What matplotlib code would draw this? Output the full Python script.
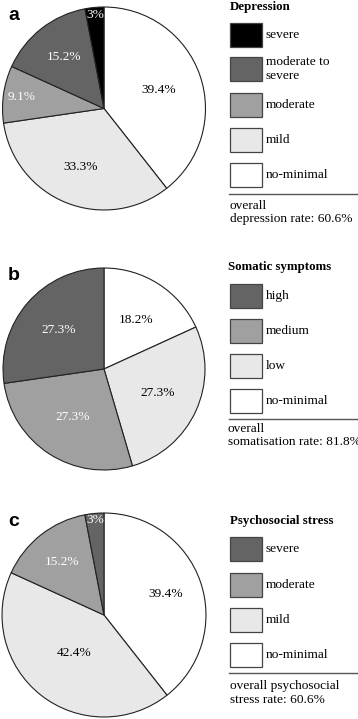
import numpy as np
import matplotlib
matplotlib.use("Agg")
import matplotlib.pyplot as plt
from matplotlib.patches import Rectangle
from matplotlib.colors import to_rgb

# data (pie order: clockwise from 12 o'clock)
dep_labels = ['no-minimal', 'mild', 'moderate', 'moderate to\nsevere', 'severe']
dep_values = [39.4, 33.3, 9.1, 15.2, 3.0]
dep_colors = ['#ffffff', '#e8e8e8', '#a0a0a0', '#646464', '#000000']

som_labels = ['no-minimal', 'low', 'medium', 'high']
som_values = [18.2, 27.3, 27.3, 27.3]
som_colors = ['#ffffff', '#e8e8e8', '#a0a0a0', '#646464']

psy_labels = ['no-minimal', 'mild', 'moderate', 'severe']
psy_values = [39.4, 42.4, 15.2, 3.0]
psy_colors = ['#ffffff', '#e8e8e8', '#a0a0a0', '#646464']

W, H = 358, 719
serif = 'Liberation Serif'

fig = plt.figure(figsize=(W / 100, H / 100), dpi=100)
overlay = fig.add_axes([0, 0, 1, 1])
overlay.set_xlim(0, W)
overlay.set_ylim(H, 0)
overlay.axis('off')


def draw_pie(cx, cy, r, values, colors, dists, letter):
    ax = fig.add_axes([(cx - r) / W, 1 - (cy + r) / H, 2 * r / W, 2 * r / H])
    wedges, _ = ax.pie(values, colors=colors, startangle=90, counterclock=False,
                       wedgeprops=dict(edgecolor='#222222', linewidth=0.8))
    ax.set_xlim(-1.01, 1.01)
    ax.set_ylim(-1.01, 1.01)
    ax.axis('off')
    for w, v, c, d in zip(wedges, values, colors, dists):
        ang = np.deg2rad((w.theta1 + w.theta2) / 2)
        tc = 'white' if np.mean(to_rgb(c)) < 0.7 else 'black'
        ax.text(d * np.cos(ang), d * np.sin(ang), f"{v:g}%", ha='center', va='center',
                fontsize=9.6, family=serif, color=tc)
    overlay.text(8, cy - r + 9, letter, fontsize=14, fontweight='bold',
                 family='Liberation Sans', ha='left', va='center')


def draw_legend(x, title_y, box_ys, labels, colors, line_y, foot, foot_ys):
    overlay.text(x, title_y, labels[0], fontsize=9.3, fontweight='bold', family=serif,
                 ha='left', va='center')
    for by, lab, c in zip(box_ys, labels[1], colors):
        overlay.add_patch(Rectangle((230, by - 12), 32, 24, facecolor=c,
                                    edgecolor='#444444', linewidth=0.9))
        overlay.text(266, by, lab, fontsize=9.6, family=serif, ha='left', va='center',
                     linespacing=1.25)
    overlay.plot([229, 357], [line_y, line_y], color='#555555', linewidth=1)
    for fy, ft in zip(foot_ys, foot):
        overlay.text(x, fy, ft, fontsize=9.6, family=serif, ha='left', va='center')


# panel a
draw_pie(104, 108.5, 102.5, dep_values, dep_colors, [0.57, 0.62, 0.82, 0.64, 0.93], 'a')
draw_legend(230, 7, [35, 69, 105, 140, 175], ('Depression', dep_labels[::-1]),
            dep_colors[::-1], 194, ['overall', 'depression rate: 60.6%'], [206, 219])

# panel b
draw_pie(104, 369, 102, som_values, som_colors, [0.58, 0.58, 0.57, 0.59], 'b')
draw_legend(228, 267, [296, 331, 366, 401], ('Somatic symptoms', som_labels[::-1]),
            som_colors[::-1], 419, ['overall', 'somatisation rate: 81.8%'], [429, 442])

# panel c
draw_pie(104, 615, 103, psy_values, psy_colors, [0.64, 0.48, 0.66, 0.94], 'c')
draw_legend(230, 521, [549, 585, 620, 655], ('Psychosocial stress', psy_labels[::-1]),
            psy_colors[::-1], 673, ['overall psychosocial', 'stress rate: 60.6%'], [686, 700])

fig.savefig('out.png', dpi=100)
